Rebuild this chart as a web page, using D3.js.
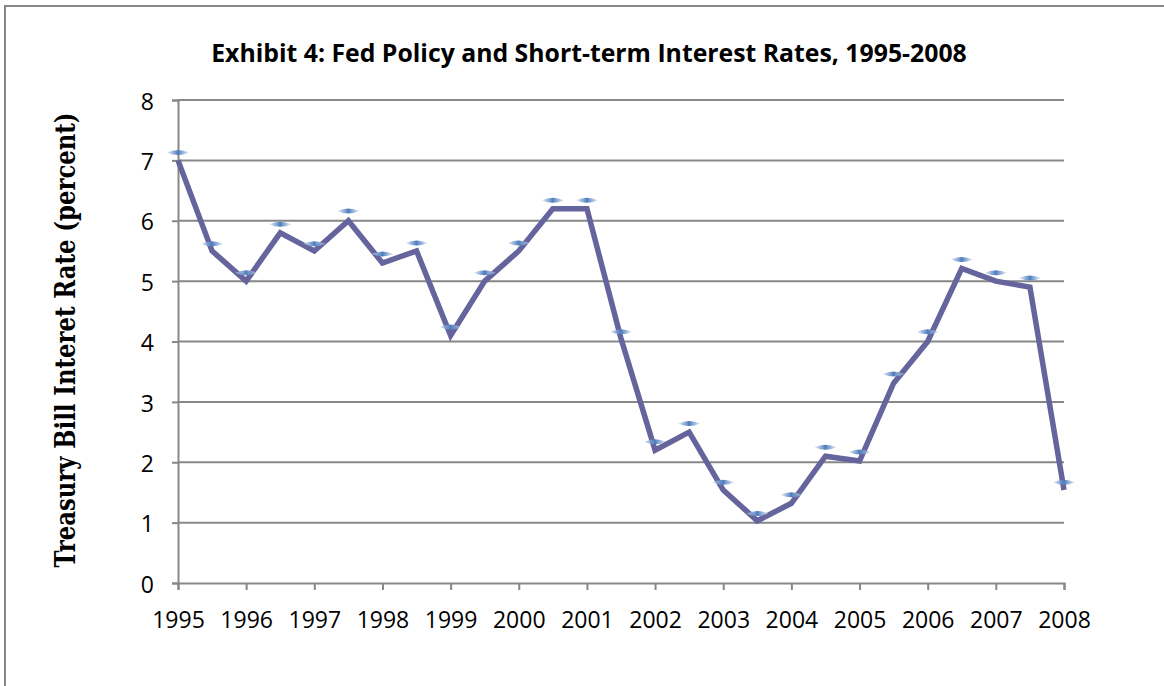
<!DOCTYPE html>
<html>
<head>
<meta charset="utf-8">
<script src="https://cdn.jsdelivr.net/npm/d3@7"></script>
<style>
  html, body { margin: 0; padding: 0; background: #ffffff; }
  svg { display: block; }
</style>
</head>
<body>
<svg id="chart" width="1164" height="686"></svg>
<script>
// ---- data ----
const periods = [1995, 1995.5, 1996, 1996.5, 1997, 1997.5, 1998, 1998.5, 1999, 1999.5,
                 2000, 2000.5, 2001, 2001.5, 2002, 2002.5, 2003, 2003.5, 2004, 2004.5,
                 2005, 2005.5, 2006, 2006.5, 2007, 2007.5, 2008];
const tbillRate = [7.0, 5.5, 5.0, 5.8, 5.5, 6.0, 5.3, 5.5, 4.1, 5.0,
                   5.5, 6.2, 6.2, 4.05, 2.2, 2.5, 1.54, 1.03, 1.32, 2.1,
                   2.02, 3.31, 4.0, 5.21, 5.0, 4.9, 1.54];
const markerRate = [7.13, 5.62, 5.14, 5.94, 5.62, 6.16, 5.45, 5.63, 4.24, 5.14,
                    5.63, 6.34, 6.34, 4.16, 2.34, 2.64, 1.67, 1.15, 1.46, 2.25,
                    2.17, 3.46, 4.16, 5.36, 5.14, 5.05, 1.67];
const yearTicks = [1995, 1996, 1997, 1998, 1999, 2000, 2001, 2002, 2003, 2004, 2005, 2006, 2007, 2008];
const rateTicks = [0, 1, 2, 3, 4, 5, 6, 7, 8];
const titleText = "Exhibit 4: Fed Policy and Short-term Interest Rates, 1995-2008";
const yLabelText = "Treasury Bill Interet Rate (percent)";

// ---- layout ----
const svg = d3.select("#chart");
const gray = "#878787";
const x = d3.scaleLinear().domain([1995, 2008]).range([178, 1064]);
const y = d3.scaleLinear().domain([0, 8]).range([583, 100]);

// outer frame
svg.append("rect").attr("x", 5).attr("y", 6).attr("width", 1200).attr("height", 720)
  .attr("fill", "none").attr("stroke", gray).attr("stroke-width", 2);

// gridlines
svg.append("g").selectAll("line").data(rateTicks.filter(d => d > 0)).join("line")
  .attr("x1", x(1995)).attr("x2", x(2008))
  .attr("y1", d => y(d)).attr("y2", d => y(d))
  .attr("stroke", gray).attr("stroke-width", 2);

// y axis
const yAxis = svg.append("g").attr("transform", `translate(${x(1995)},0)`)
  .call(d3.axisLeft(y).tickValues(rateTicks).tickSize(6).tickPadding(18).tickFormat(d3.format("d")));
yAxis.select(".domain").attr("stroke", gray).attr("stroke-width", 2);
yAxis.selectAll(".tick line").attr("stroke", gray).attr("stroke-width", 2);
yAxis.selectAll(".tick text").attr("font-family", "'Open Sans', sans-serif").attr("font-size", 23)
  .attr("fill", "#000").attr("dy", "0.4em");

// x axis
const xAxis = svg.append("g").attr("transform", `translate(0,${y(0)})`)
  .call(d3.axisBottom(x).tickValues(yearTicks).tickSize(7).tickPadding(22).tickFormat(d3.format("d")));
xAxis.select(".domain").attr("stroke", gray).attr("stroke-width", 2);
xAxis.selectAll(".tick line").attr("stroke", gray).attr("stroke-width", 2);
xAxis.selectAll(".tick text").attr("font-family", "'Open Sans', sans-serif").attr("font-size", 23)
  .attr("fill", "#000").attr("dy", "0.71em");

// markers gradient
const defs = svg.append("defs");
const grad = defs.append("linearGradient").attr("id", "mk").attr("x1", "0").attr("x2", "1").attr("y1", "0").attr("y2", "0");
grad.append("stop").attr("offset", "0%").attr("stop-color", "#c7d5ea").attr("stop-opacity", 0.6);
grad.append("stop").attr("offset", "50%").attr("stop-color", "#4b7cbd");
grad.append("stop").attr("offset", "100%").attr("stop-color", "#c7d5ea").attr("stop-opacity", 0.6);

// line
const line = d3.line().x((d, i) => x(periods[i])).y(d => y(d));
svg.append("path").datum(tbillRate).attr("d", line)
  .attr("fill", "none").attr("stroke", "#65649c").attr("stroke-width", 5.5)
  .attr("stroke-linejoin", "miter");

// markers
svg.append("g").selectAll("path").data(markerRate).join("path")
  .attr("transform", (d, i) => `translate(${x(periods[i])},${y(d)})`)
  .attr("d", "M-11,0 Q0,-5 11,0 Q0,5 -11,0 Z")
  .attr("fill", "url(#mk)");

// title
const title = svg.append("text").attr("x", 589).attr("y", 62).attr("text-anchor", "middle")
  .attr("font-family", "'Open Sans', sans-serif").attr("font-weight", "bold").attr("font-size", 25)
  .attr("fill", "#000").text(titleText);
const tw = title.node().getComputedTextLength();
const sx = 756 / tw;
title.attr("transform", `translate(589,0) scale(${sx},1) translate(-589,0)`);

// y label
const yl = svg.append("text")
  .attr("font-family", "'DejaVu Serif', serif").attr("font-weight", "bold").attr("font-size", 20)
  .attr("fill", "#000").attr("text-anchor", "middle").text(yLabelText);
const yw = yl.node().getComputedTextLength();
const fs = 20 * 455 / yw;
yl.attr("font-size", fs);
const k = 20 / (0.729 * fs);
yl.attr("transform", `translate(75,340) rotate(-90) scale(1,${k})`);
</script>
</body>
</html>
